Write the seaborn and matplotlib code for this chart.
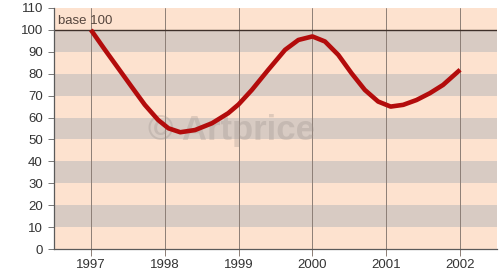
"""Artprice index chart, base 100 in 1997"""

import matplotlib

matplotlib.use("Agg")
import matplotlib.pyplot as plt
import pandas as pd
import seaborn as sns

# Index values
years = [
    1997.00, 1997.19, 1997.37, 1997.55, 1997.73, 1997.91,
    1998.05, 1998.21, 1998.41, 1998.64, 1998.86,
    1999.00, 1999.18, 1999.40, 1999.63, 1999.81,
    2000.00, 2000.17, 2000.35, 2000.53, 2000.71, 2000.89,
    2001.06, 2001.23, 2001.41, 2001.59, 2001.77,
    2002.00,
]
index_values = [
    100, 90.9, 82.5, 74.1, 65.8, 58.9,
    55.1, 53.3, 54.3, 57.4, 62,
    66, 72.6, 81.7, 90.9, 95.4,
    97, 94.7, 88.6, 80.2, 72.6, 67.3,
    65, 65.8, 68, 71.1, 74.9,
    81.8,
]
year_ticks = [1997, 1998, 1999, 2000, 2001, 2002]
y_ticks = list(range(0, 111, 10))

PEACH = "#fde2cf"
BAND = "#d8cbc3"
GRID = "#8c7e76"

sns.set_style("ticks")
plt.rcParams["font.family"] = ["Liberation Sans", "DejaVu Sans"]

df = pd.DataFrame({"year": years, "index": index_values})

fig = plt.figure(figsize=(5.0, 2.74), dpi=100)
ax = fig.add_axes([0.108, 0.091, 0.886, 0.880])
ax.set_facecolor(PEACH)

# alternating grey bands
for low in range(10, 100, 20):
    ax.axhspan(low, low + 10, color=BAND, lw=0, zorder=0)

for yr in year_ticks:
    ax.axvline(yr, color=GRID, lw=0.7, zorder=1)
ax.axhline(100, color="#3e302a", lw=1.0, zorder=2)

# watermark
ax.text(
    1998.91, 54.3, "© Artprice", ha="center", va="center",
    fontsize=25, fontweight="bold", color="#9a918c", alpha=0.3, zorder=2,
)

sns.lineplot(
    data=df, x="year", y="index", ax=ax, color="#b30c0c", lw=3.3,
    solid_capstyle="butt", solid_joinstyle="round", zorder=3,
)

ax.text(1996.555, 101.4, "base 100", fontsize=9.5, color="#55453d", va="bottom")

ax.set_xlim(1996.5, 2002.5)
ax.set_ylim(0, 110)
ax.set_xticks(year_ticks)
ax.set_xticklabels([str(y) for y in year_ticks])
ax.set_yticks(y_ticks)
ax.set_xlabel("")
ax.set_ylabel("")
ax.tick_params(axis="x", length=5, width=0.7, color=GRID, labelsize=9.5,
               labelcolor="#333333", pad=2)
ax.tick_params(axis="y", length=4.5, width=0.7, color="#777777", labelsize=9.5,
               labelcolor="#333333", pad=3.5)
sns.despine(ax=ax)
for side in ["left", "bottom"]:
    ax.spines[side].set_color("#5a5a5a")
    ax.spines[side].set_linewidth(0.9)

fig.savefig("out.png", dpi=100)
plt.close(fig)
